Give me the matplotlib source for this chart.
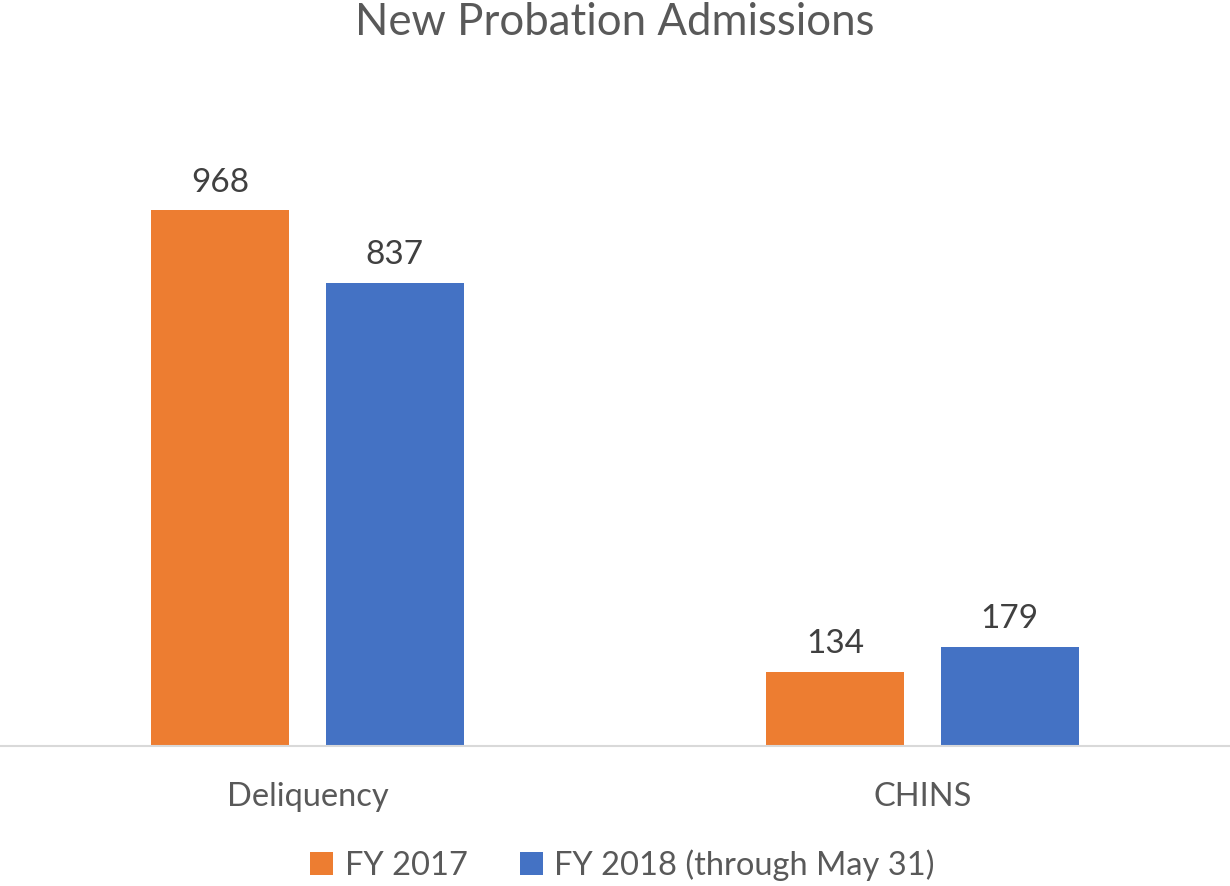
import matplotlib.pyplot as plt
import numpy as np

categories = ['Deliquency', 'CHINS']
fy2017 = [968, 134]
fy2018 = [837, 179]
series_names = ['FY 2017', 'FY 2018 (through May 31)']

orange = '#ED7D31'
blue = '#4472C4'
text_col = '#595959'

plt.rcParams['font.family'] = ['Lato', 'DejaVu Sans']

fig = plt.figure(figsize=(12.3, 8.86), dpi=100)
ax = fig.add_axes([0.0, 0.158, 1.0, 0.69])

x = np.arange(len(categories))
w = 0.224
off = 0.142
b1 = ax.bar(x - off, fy2017, w, color=orange, label=series_names[0])
b2 = ax.bar(x + off, fy2018, w, color=blue, label=series_names[1])

for bars in (b1, b2):
    for r in bars:
        ax.annotate('%d' % r.get_height(), (r.get_x() + r.get_width() / 2, r.get_height()),
                    xytext=(0, 9), textcoords='offset points', ha='center', va='bottom',
                    fontsize=24, color='#404040')

ax.set_xlim(-0.5, 1.5)
ax.set_ylim(0, 968 * 0.69 * 886 / 536)
ax.set_xticks(x)
ax.set_xticklabels(categories, fontsize=23.5, color=text_col)
ax.tick_params(axis='x', length=0, pad=26)
ax.set_yticks([])
for s in ['top', 'right', 'left']:
    ax.spines[s].set_visible(False)
ax.spines['bottom'].set_color('#D9D9D9')
ax.spines['bottom'].set_linewidth(1.5)

fig.text(0.5, 0.975, 'New Probation Admissions', ha='center', va='center',
         fontsize=31.5, color=text_col)

fig.legend(loc='center', bbox_to_anchor=(0.506, 0.024), ncol=2, frameon=False,
           fontsize=23.5, labelcolor=text_col, handlelength=0.7, handleheight=0.7,
           handletextpad=0.35, columnspacing=1.6)

fig.savefig('out.png', dpi=100)
